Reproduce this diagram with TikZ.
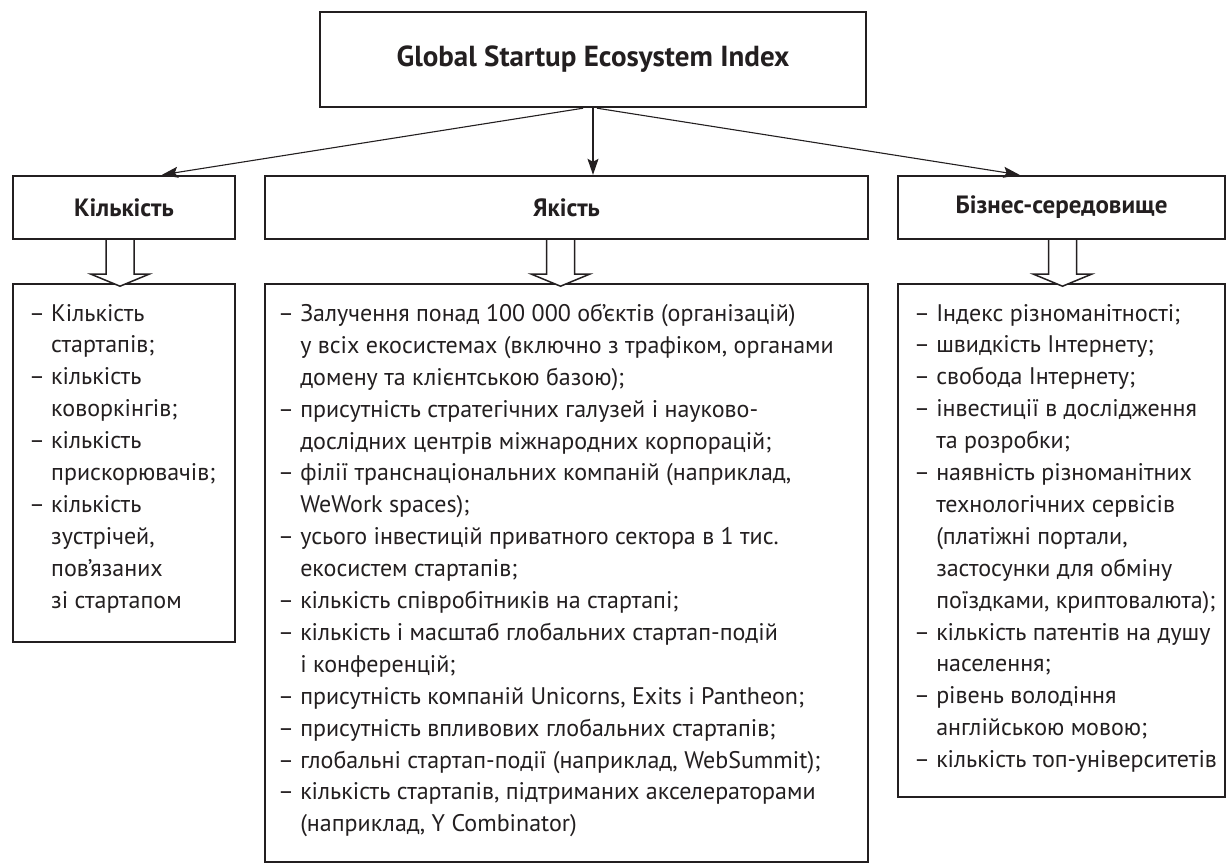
\documentclass[tikz,border=0pt]{standalone}
\usepackage{fontspec}
\setmainfont{PT Sans}
\usetikzlibrary{calc,arrows.meta}
\definecolor{ink}{HTML}{231F20}
% continuation line of a dashed item: indent by the width of the dash
\newcommand\contline{\phantom{– }}
% hollow block arrow pointing down, #1 = midpoint of its top edge
\newcommand\hollowdown[1]{%
  \filldraw[hollow] ($#1+(-14,0)$) -- ++(0,34) -- ++(-15,0) -- ++(29,12)
    -- ++(29,-12) -- ++(-15,0) -- ++(0,-34);}
\begin{document}
\begin{tikzpicture}[x=1pt,y=-1pt,
  box/.style={draw=ink, line width=2.4pt, fill=white, inner sep=0pt},
  head/.style={box, text=ink, font=\bfseries\fontsize{25}{29}\selectfont},
  body/.style={anchor=north west, inner sep=0pt, align=left, text=ink,
    font=\fontsize{24}{31.9}\selectfont},
  link/.style={draw=ink, line width=1.1pt, -{Stealth[length=16pt,width=11pt,inset=3pt]}},
  hollow/.style={draw=ink, line width=1.5pt, fill=white, line join=miter}
]
\useasboundingbox (0,0) rectangle (1228,863);

% index title
\node[box, text=ink, minimum width=546, minimum height=95,
  font=\bfseries\fontsize{29}{33}\selectfont] (top) at (593,59.5)
  {Global Startup Ecosystem Index};

% group headers
\node[head, minimum width=222, minimum height=63] (hq) at (124,207.5) {Кількість};
\node[head, minimum width=603, minimum height=63] (hm) at (566.5,207.5) {Якість};
\node[head, minimum width=327, minimum height=63] (hb) at (1061.5,207.5) {Бізнес-середовище};

% indicator boxes
\node[box, minimum width=222, minimum height=358] (lq) at (124,463) {};
\node[box, minimum width=603, minimum height=578] (lm) at (566.5,573) {};
\node[box, minimum width=327, minimum height=513] (lb) at (1061.5,540.5) {};

% title to groups
\draw[link] ($(top.south)+(-10,0)$) -- ($(hq.north)+(38,0)$);
\draw[link] (top.south) -- (top.south |- hm.north);
\draw[link] ($(top.south)+(4,0)$) -- ($(hb.north)+(-42,0)$);

% groups to indicators
\hollowdown{($(hq.south)+(-4,0)$)}
\hollowdown{($(hm.south)+(-6,0)$)}
\hollowdown{($(hb.south)+(1,0)$)}

\node[body] (tq) at ($(lq.north west)+(17,21)$) {%
– Кількість\\
\contline стартапів;\\
– кількість\\
\contline коворкінгів;\\
– кількість\\
\contline прискорювачів;\\
– кількість\\
\contline зустрічей,\\
\contline пов’язаних\\
\contline зі стартапом};

\node[body] (tm) at ($(lm.north west)+(14,21)$) {%
– Залучення понад 100 000 об’єктів (організацій)\\
\contline у всіх екосистемах (включно з трафіком, органами\\
\contline домену та клієнтською базою);\\
– присутність стратегічних галузей і науково-\\
\contline дослідних центрів міжнародних корпорацій;\\
– філії транснаціональних компаній (наприклад,\\
\contline WeWork spaces);\\
– усього інвестицій приватного сектора в 1 тис.\\
\contline екосистем стартапів;\\
– кількість співробітників на стартапі;\\
– кількість і масштаб глобальних стартап-подій\\
\contline і конференцій;\\
– присутність компаній Unicorns, Exits і Pantheon;\\
– присутність впливових глобальних стартапів;\\
– глобальні стартап-події (наприклад, WebSummit);\\
– кількість стартапів, підтриманих акселераторами\\
\contline (наприклад, Y Combinator)};

\node[body] (tb) at ($(lb.north west)+(17,21)$) {%
– Індекс різноманітності;\\
– швидкість Інтернету;\\
– свобода Інтернету;\\
– інвестиції в дослідження\\
\contline та розробки;\\
– наявність різноманітних\\
\contline технологічних сервісів\\
\contline (платіжні портали,\\
\contline застосунки для обміну\\
\contline поїздками, криптовалюта);\\
– кількість патентів на душу\\
\contline населення;\\
– рівень володіння\\
\contline англійською мовою;\\
– кількість топ-університетів};
\end{tikzpicture}
\end{document}
